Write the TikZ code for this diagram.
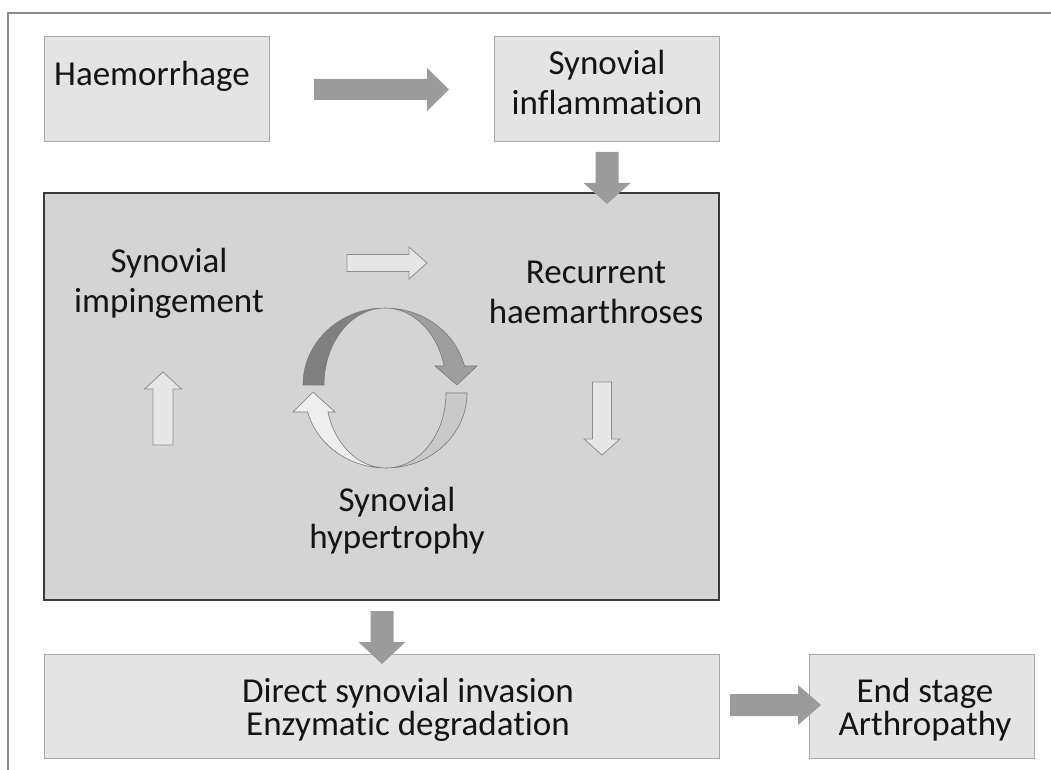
\documentclass[tikz,border=0pt]{standalone}
\usepackage{fontspec}
\setmainfont{Carlito}[Ligatures={NoCommon}]
\definecolor{outerline}{HTML}{8C8C8C}
\definecolor{boxfill}{HTML}{E4E4E4}
\definecolor{boxline}{HTML}{A8A8A8}
\definecolor{cyclefill}{HTML}{D4D4D4}
\definecolor{cycleline}{HTML}{3A3A3A}
\definecolor{arrowgray}{HTML}{9B9B9B}
\definecolor{palefill}{HTML}{E6E6E6}
\definecolor{paleedge}{HTML}{8F8F8F}
\definecolor{ringdark}{HTML}{808080}
\definecolor{ringmid}{HTML}{9E9E9E}
\definecolor{ringlight}{HTML}{C9C9C9}
\definecolor{ringwhite}{HTML}{EEEEEE}
\definecolor{ringedge}{HTML}{7A7A7A}
\definecolor{textcol}{HTML}{141414}

% block arrow: style, tail centre, angle, length, head length, shaft half width, head half width
\newcommand\blockarrow[7]{%
  \path[#1, shift={(#2)}, rotate=#3]
    (0,-#6) -- ({#4-#5},-#6) -- ({#4-#5},-#7) -- (#4,0)
    -- ({#4-#5},#7) -- ({#4-#5},#6) -- (0,#6) -- cycle;}

\begin{document}
\begin{tikzpicture}[x=1pt,y=1pt,
  lightbox/.style={draw=boxline, fill=boxfill, line width=1pt, inner sep=0pt, outer sep=0pt},
  cyclebox/.style={draw=cycleline, fill=cyclefill, line width=2pt, inner sep=0pt, outer sep=0pt},
  lbl/.style={font=\fontsize{35}{40}\selectfont, text=textcol, inner sep=0pt, align=center, anchor=base},
  flowarrow/.style={fill=arrowgray, draw=none},
  palearrow/.style={fill=palefill, draw=paleedge, line width=0.8pt, line join=miter},
  ring/.style={draw=ringedge, line width=0.6pt, line join=miter}]

\useasboundingbox (0,0) rectangle (1051,769);
\fill[white] (0,0) rectangle (1051,769);

% outer frame
\draw[outerline, line width=1.5pt] (8,-3) -- (8,756) -- (1054,756);

% boxes
\node[lightbox, minimum width=225pt, minimum height=105pt] (haem) at (156.5,679.5) {};
\node[lightbox, minimum width=225pt, minimum height=105pt] (synf) at (606.5,679.5) {};
\node[cyclebox, minimum width=675pt, minimum height=407pt] (cycle) at (381.5,372.5) {};
\node[lightbox, minimum width=675pt, minimum height=104pt] (invade) at (381.5,63) {};
\node[lightbox, minimum width=225pt, minimum height=104pt] (endst) at (921.5,63) {};

% labels (base anchor sits on the last line)
\node[lbl] (haemtxt) at (152,683) {Haemorrhage};
\node[lbl] (synftxt) at (607,654) {Synovial\\inflammation};
\node[lbl] (imptxt) at (169,456) {Synovial\\impingement};
\node[lbl] (recurtxt) at (596,445) {Recurrent\\haemarthroses};
\node[lbl, font=\fontsize{35}{37}\selectfont] (hyptxt) at (397,221) {Synovial\\hypertrophy};
\node[lbl, font=\fontsize{35}{33}\selectfont] (invtxt) at (408,34) {Direct synovial invasion\\Enzymatic degradation};
\node[lbl, font=\fontsize{35}{33}\selectfont] (endtxt) at (925,34) {End stage\\Arthropathy};

% flow arrows between boxes
\blockarrow{flowarrow}{314,679.5}{0}{135}{22}{10.5}{21.5}
\blockarrow{flowarrow}{607,617}{-90}{52}{21}{11.5}{23.5}
\blockarrow{flowarrow}{382,158}{-90}{53}{22}{11.5}{23.5}
\blockarrow{flowarrow}{730,64}{0}{91}{23}{11}{20}

% arrows inside the cycle box
\blockarrow{palearrow}{347,506}{0}{80}{18}{8.5}{16}
\blockarrow{palearrow}{163,324}{90}{73}{17}{10}{18.5}
\blockarrow{palearrow}{602,387}{-90}{73}{16}{9.5}{18}

% circular arrows
\path[ring, fill=ringlight] (467,376)
  arc[start angle=0, end angle=-90, x radius=81pt, y radius=75pt]
  arc[start angle=-90, end angle=0, x radius=60pt, y radius=75pt] -- cycle;
\path[ring, fill=ringwhite] (386,301)
  arc[start angle=270, end angle=194.7, x radius=81pt, y radius=75pt]
  -- (293,357) -- (313,377) -- (335,357) -- (327.96,357)
  arc[start angle=194.7, end angle=270, x radius=60pt, y radius=75pt] -- cycle;
\path[ring, fill=ringdark] (303,384)
  arc[start angle=180, end angle=90, x radius=82pt, y radius=77pt]
  arc[start angle=90, end angle=180, x radius=61pt, y radius=77pt] -- cycle;
\path[ring, fill=ringmid] (385,461)
  arc[start angle=90, end angle=14.3, x radius=82pt, y radius=77pt]
  -- (477,403) -- (457,384) -- (435,403) -- (444.1,403)
  arc[start angle=14.3, end angle=90, x radius=61pt, y radius=77pt] -- cycle;

\end{tikzpicture}
\end{document}
